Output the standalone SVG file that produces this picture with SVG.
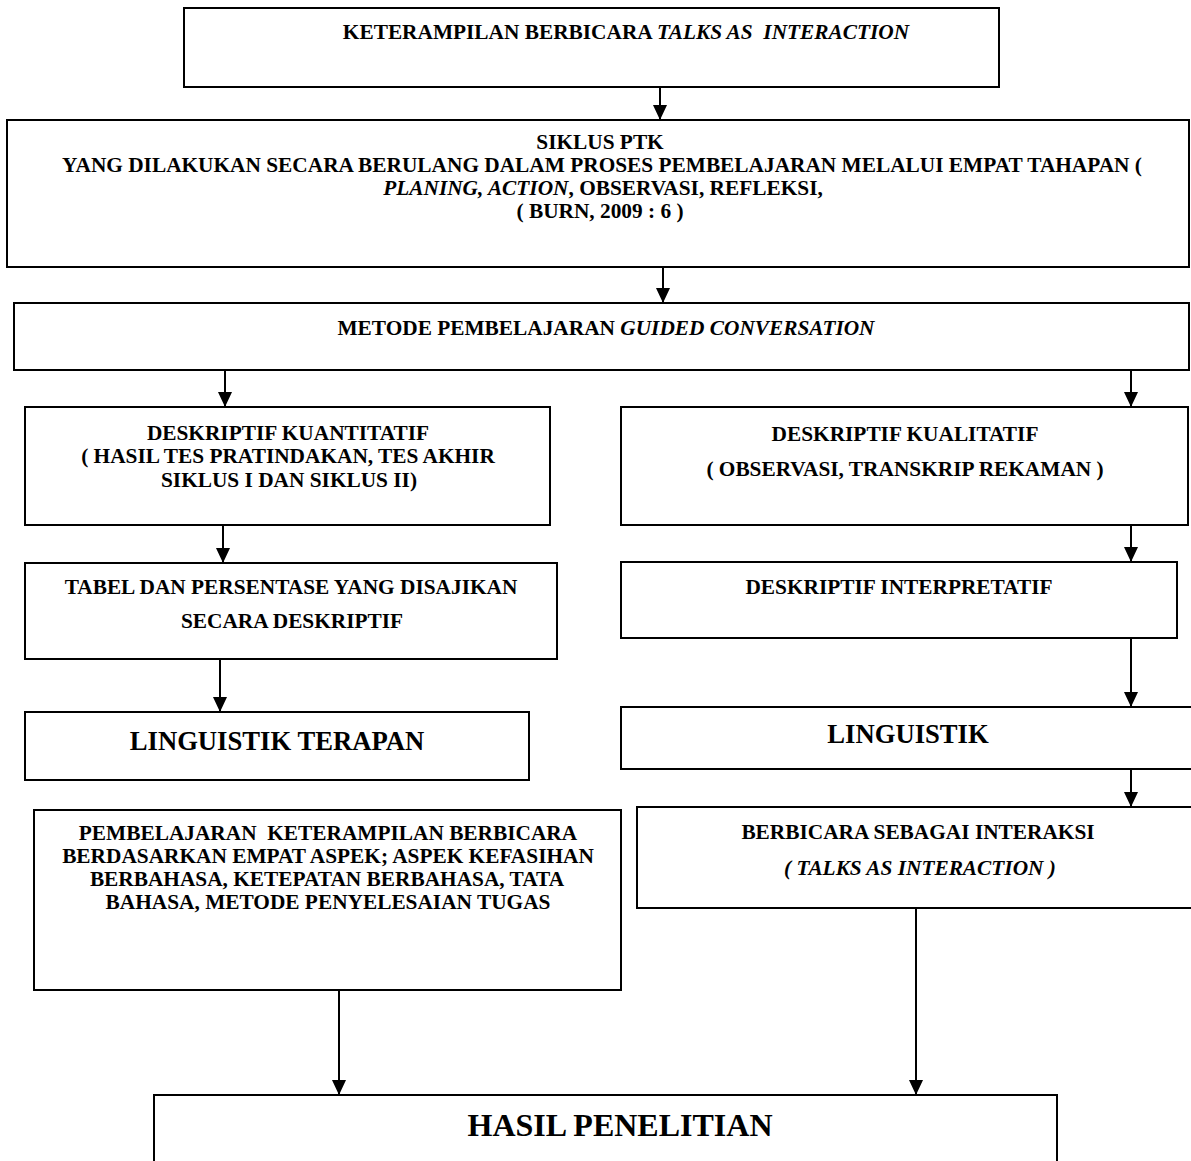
<svg xmlns="http://www.w3.org/2000/svg" width="1191" height="1161" viewBox="0 0 1191 1161">
<style>
.box{fill:#fff;stroke:#000;stroke-width:2}
.t{font-family:"Liberation Serif","Times New Roman",serif;font-weight:bold;font-size:21.33px;fill:#000;text-anchor:middle}
.l{font-size:26.67px}
.h{font-size:32px}
.i{font-style:italic}
.c{fill:none;stroke:#000;stroke-width:2}
</style>
<defs>
<marker id="ah" markerUnits="userSpaceOnUse" markerWidth="15" markerHeight="14" viewBox="0 0 15 14" refX="15" refY="7" orient="auto">
<path d="M0,0 L15,7 L0,14 Z" fill="#000"/>
</marker>
</defs>
<rect width="1191" height="1161" fill="#fff"/>

<g id="connectors">
<line class="c" x1="660" y1="87" x2="660" y2="120" marker-end="url(#ah)"/>
<line class="c" x1="663" y1="265" x2="663" y2="303" marker-end="url(#ah)"/>
<line class="c" x1="225" y1="370" x2="225" y2="407" marker-end="url(#ah)"/>
<line class="c" x1="1131" y1="370" x2="1131" y2="407" marker-end="url(#ah)"/>
<line class="c" x1="223" y1="525" x2="223" y2="563" marker-end="url(#ah)"/>
<line class="c" x1="1131" y1="525" x2="1131" y2="562" marker-end="url(#ah)"/>
<line class="c" x1="220" y1="650" x2="220" y2="712" marker-end="url(#ah)"/>
<line class="c" x1="1131" y1="636" x2="1131" y2="707" marker-end="url(#ah)"/>
<line class="c" x1="1131" y1="769" x2="1131" y2="807" marker-end="url(#ah)"/>
<line class="c" x1="339" y1="990" x2="339" y2="1095" marker-end="url(#ah)"/>
<line class="c" x1="916" y1="908" x2="916" y2="1095" marker-end="url(#ah)"/>
</g>

<g id="n1">
<rect class="box" x="184" y="8" width="815" height="79"/>
<text class="t" x="626" y="39" xml:space="preserve">KETERAMPILAN BERBICARA <tspan class="i">TALKS AS  INTERACTION</tspan></text>
</g>

<g id="n2">
<rect class="box" x="7" y="120" width="1182" height="147"/>
<text class="t" x="600" y="149">SIKLUS PTK</text>
<text class="t" x="602" y="172">YANG DILAKUKAN SECARA BERULANG DALAM PROSES PEMBELAJARAN MELALUI EMPAT TAHAPAN (</text>
<text class="t" x="603" y="195"><tspan class="i">PLANING, ACTION</tspan>, OBSERVASI, REFLEKSI,</text>
<text class="t" x="600" y="218">( BURN, 2009 : 6 )</text>
</g>

<g id="n3">
<rect class="box" x="14" y="303" width="1175" height="67"/>
<text class="t" x="606" y="335">METODE PEMBELAJARAN <tspan class="i">GUIDED CONVERSATION</tspan></text>
</g>

<g id="n4">
<rect class="box" x="25" y="407" width="525" height="118"/>
<text class="t" x="288" y="440">DESKRIPTIF KUANTITATIF</text>
<text class="t" x="288" y="463">( HASIL TES PRATINDAKAN, TES AKHIR</text>
<text class="t" x="289" y="487">SIKLUS I DAN SIKLUS II)</text>
</g>

<g id="n5">
<rect class="box" x="621" y="407" width="567" height="118"/>
<text class="t" x="905" y="441">DESKRIPTIF KUALITATIF</text>
<text class="t" x="905" y="476">( OBSERVASI, TRANSKRIP REKAMAN )</text>
</g>

<g id="n6">
<rect class="box" x="25" y="563" width="532" height="96"/>
<text class="t" x="291" y="594">TABEL DAN PERSENTASE YANG DISAJIKAN</text>
<text class="t" x="292" y="628">SECARA DESKRIPTIF</text>
</g>

<g id="n7">
<rect class="box" x="621" y="562" width="556" height="76"/>
<text class="t" x="899" y="594">DESKRIPTIF INTERPRETATIF</text>
</g>

<g id="n8">
<rect class="box" x="25" y="712" width="504" height="68"/>
<text class="t l" x="277" y="750">LINGUISTIK TERAPAN</text>
</g>

<g id="n9">
<rect class="box" x="621" y="707" width="580" height="62"/>
<text class="t l" x="908" y="743">LINGUISTIK</text>
</g>

<g id="n10">
<rect class="box" x="34" y="810" width="587" height="180"/>
<text class="t" x="328" y="840" xml:space="preserve">PEMBELAJARAN  KETERAMPILAN BERBICARA</text>
<text class="t" x="328" y="863">BERDASARKAN EMPAT ASPEK; ASPEK KEFASIHAN</text>
<text class="t" x="327" y="886">BERBAHASA, KETEPATAN BERBAHASA, TATA</text>
<text class="t" x="328" y="909">BAHASA, METODE PENYELESAIAN TUGAS</text>
</g>

<g id="n11">
<rect class="box" x="637" y="807" width="564" height="101"/>
<text class="t" x="918" y="839">BERBICARA SEBAGAI INTERAKSI</text>
<text class="t i" x="920" y="875">( TALKS AS INTERACTION )</text>
</g>

<g id="n12">
<rect class="box" x="154" y="1095" width="903" height="80"/>
<text class="t h" x="620" y="1136">HASIL PENELITIAN</text>
</g>
</svg>
